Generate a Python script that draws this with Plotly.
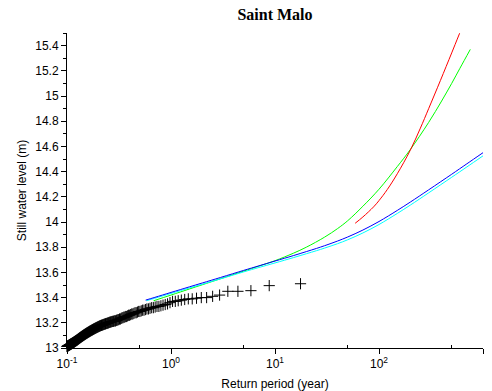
import plotly.graph_objects as go

# Empirical return periods (years) and observed still water levels (m)
obs_T = [17.6, 8.8, 5.867, 4.4, 3.52, 2.933, 2.514, 2.2, 1.956, 1.76,
         1.6, 1.467, 1.354, 1.257, 1.173, 1.1, 1.035, 0.9778, 0.9263, 0.88,
         0.8381, 0.8, 0.7652, 0.7333, 0.704, 0.6769, 0.6519, 0.6286, 0.6069, 0.5867,
         0.5677, 0.55, 0.5333, 0.5176, 0.5029, 0.4889, 0.4757, 0.4632, 0.4513, 0.44,
         0.4293, 0.419, 0.4093, 0.4, 0.3911, 0.3826, 0.3745, 0.3667, 0.3592, 0.352,
         0.3451, 0.3385, 0.3321, 0.3259, 0.32, 0.3143, 0.3088, 0.3034, 0.2983, 0.2933,
         0.2885, 0.2839, 0.2794, 0.275, 0.2708, 0.2667, 0.2627, 0.2588, 0.2551, 0.2514,
         0.2479, 0.2444, 0.2411, 0.2378, 0.2347, 0.2316, 0.2286, 0.2256, 0.2228, 0.22,
         0.2173, 0.2146, 0.212, 0.2095, 0.2071, 0.2047, 0.2023, 0.2, 0.1978, 0.1956,
         0.1934, 0.1913, 0.1892, 0.1872, 0.1853, 0.1833, 0.1814, 0.1796, 0.1778, 0.176,
         0.1743, 0.1725, 0.1709, 0.1692, 0.1676, 0.166, 0.1645, 0.163, 0.1615, 0.16,
         0.1586, 0.1571, 0.1558, 0.1544, 0.153, 0.1517, 0.1504, 0.1492, 0.1479, 0.1467,
         0.1455, 0.1443, 0.1431, 0.1419, 0.1408, 0.1397, 0.1386, 0.1375, 0.1364, 0.1354,
         0.1344, 0.1333, 0.1323, 0.1313, 0.1304, 0.1294, 0.1285, 0.1275, 0.1266, 0.1257,
         0.1248, 0.1239, 0.1231, 0.1222, 0.1214, 0.1205, 0.1197, 0.1189, 0.1181, 0.1173,
         0.1166, 0.1158, 0.115, 0.1143, 0.1135, 0.1128, 0.1121, 0.1114, 0.1107, 0.11,
         0.1093, 0.1086, 0.108, 0.1073, 0.1067, 0.106, 0.1054, 0.1048, 0.1041, 0.1035,
         0.1029, 0.1023, 0.1017, 0.1011, 0.1006, 0.1]
obs_level = [13.51, 13.495, 13.455, 13.45, 13.45, 13.42, 13.41, 13.40, 13.40, 13.395,
             13.39, 13.39, 13.385, 13.38, 13.375, 13.37, 13.37, 13.36, 13.35, 13.345,
             13.34, 13.335, 13.33, 13.33, 13.325, 13.32, 13.32, 13.315, 13.31, 13.31,
             13.305, 13.30, 13.30, 13.295, 13.29, 13.29, 13.285, 13.28, 13.28, 13.275,
             13.27, 13.27, 13.265, 13.26, 13.26, 13.255, 13.25, 13.25, 13.245, 13.245,
             13.24, 13.24, 13.235, 13.23, 13.23, 13.225, 13.225, 13.22, 13.22, 13.215,
             13.216, 13.214, 13.212, 13.211, 13.21, 13.208, 13.206, 13.205, 13.203, 13.20,
             13.199, 13.197, 13.195, 13.194, 13.192, 13.19, 13.189, 13.187, 13.185, 13.183,
             13.182, 13.18, 13.179, 13.177, 13.175, 13.173, 13.171, 13.169, 13.167, 13.165,
             13.163, 13.161, 13.159, 13.157, 13.155, 13.153, 13.151, 13.149, 13.147, 13.145,
             13.143, 13.141, 13.139, 13.137, 13.135, 13.133, 13.131, 13.129, 13.127, 13.125,
             13.123, 13.121, 13.119, 13.117, 13.115, 13.113, 13.111, 13.109, 13.107, 13.105,
             13.103, 13.101, 13.099, 13.097, 13.095, 13.093, 13.091, 13.089, 13.087, 13.085,
             13.083, 13.081, 13.079, 13.077, 13.075, 13.073, 13.071, 13.069, 13.067, 13.065,
             13.063, 13.061, 13.06, 13.058, 13.056, 13.055, 13.053, 13.051, 13.05, 13.048,
             13.046, 13.045, 13.043, 13.042, 13.04, 13.039, 13.037, 13.036, 13.034, 13.033,
             13.032, 13.03, 13.029, 13.028, 13.026, 13.025, 13.024, 13.022, 13.021, 13.02,
             13.019, 13.017, 13.016, 13.015, 13.013, 13.012]

# Fitted return level curves
blue_T = [0.57, 0.7, 1, 1.5, 2, 3, 5, 7, 10, 15, 20, 25, 30, 40, 50, 70, 100, 150, 200, 300, 500, 700, 1000]
blue_level = [13.38, 13.402, 13.441, 13.485, 13.516, 13.56, 13.616, 13.652, 13.69, 13.733, 13.765,
              13.79, 13.812, 13.849, 13.881, 13.936, 14.004, 14.092, 14.158, 14.255, 14.379, 14.462, 14.55]
cyan_T = [0.58, 0.7, 1, 1.5, 2, 3, 5, 7, 10, 15, 20, 25, 30, 40, 50, 70, 100, 150, 200, 300, 500, 700, 1000]
cyan_level = [13.375, 13.395, 13.433, 13.476, 13.506, 13.549, 13.604, 13.639, 13.675, 13.717, 13.748,
              13.772, 13.793, 13.828, 13.859, 13.913, 13.98, 14.068, 14.134, 14.231, 14.355, 14.437, 14.525]
green_T = [0.68, 1, 1.5, 2, 3, 5, 7, 10, 15, 20, 30, 40, 50, 70, 100, 150, 200, 300, 400, 500, 600, 755]
green_level = [13.375, 13.42, 13.468, 13.502, 13.55, 13.61, 13.65, 13.693, 13.752, 13.80, 13.88,
               13.948, 14.01, 14.125, 14.26, 14.44, 14.575, 14.79, 14.96, 15.10, 15.22, 15.37]
red_T = [59, 70, 88.7, 100, 120, 150, 200, 250, 300, 389, 500, 596]
red_level = [13.99, 14.04, 14.12, 14.17, 14.257, 14.383, 14.57, 14.745, 14.899, 15.122, 15.342, 15.498]

x_tickvals = [0.1, 1, 10, 100, 1000]
x_ticktext = ["10<sup>-1</sup>", "10<sup>0</sup>", "10<sup>1</sup>", "10<sup>2</sup>", "10<sup>3</sup>"]
x_minorvals = [0.5, 5, 50, 500]

fig = go.Figure()
fig.add_trace(go.Scatter(x=obs_T, y=obs_level, mode="markers",
                         marker=dict(symbol="cross-thin", size=8, color="black",
                                     line=dict(color="black", width=1)),
                         cliponaxis=False))
for xs, ys, col in [(green_T, green_level, "#00ff00"), (cyan_T, cyan_level, "#00ffff"),
                    (blue_T, blue_level, "#0000ff"), (red_T, red_level, "#ff0000")]:
    fig.add_trace(go.Scatter(x=xs, y=ys, mode="lines",
                             line=dict(color=col, width=1, shape="spline", smoothing=1)))

fig.update_layout(
    width=492, height=391,
    margin=dict(l=67, r=9, t=33, b=43, autoexpand=False),
    paper_bgcolor="white", plot_bgcolor="white",
    showlegend=False,
    font=dict(family="Liberation Sans, Arial, sans-serif", size=12, color="black"),
    title=dict(text="<b>Saint Malo</b>", x=0.5, xanchor="center", xref="paper",
               y=1, yref="container", yanchor="top", pad=dict(t=9),
               font=dict(family="Liberation Serif, Times New Roman, serif", size=16, color="black")),
    xaxis=dict(type="log", range=[-1, 3], tickvals=x_tickvals, ticktext=x_ticktext,
               ticks="outside", ticklen=5, tickcolor="black", showline=True, linecolor="black",
               linewidth=1, showgrid=False, zeroline=False, mirror=False,
               tickfont=dict(size=12, color="black"),
               minor=dict(tickvals=x_minorvals, ticks="inside", ticklen=3, tickcolor="black", showgrid=False),
               title=dict(text="Return period (year)", font=dict(size=12, color="black"), standoff=9)),
    yaxis=dict(range=[13, 15.5], dtick=0.2, tick0=13,
               ticks="outside", ticklen=5, tickcolor="black", showline=True, linecolor="black",
               linewidth=1, showgrid=False, zeroline=False, mirror=False,
               tickfont=dict(size=12, color="black"),
               minor=dict(dtick=0.1, ticks="outside", ticklen=3, tickcolor="black", showgrid=False),
               title=dict(text="Still water level (m)", font=dict(size=12, color="black"), standoff=6)),
)

fig.write_html("out.html")
